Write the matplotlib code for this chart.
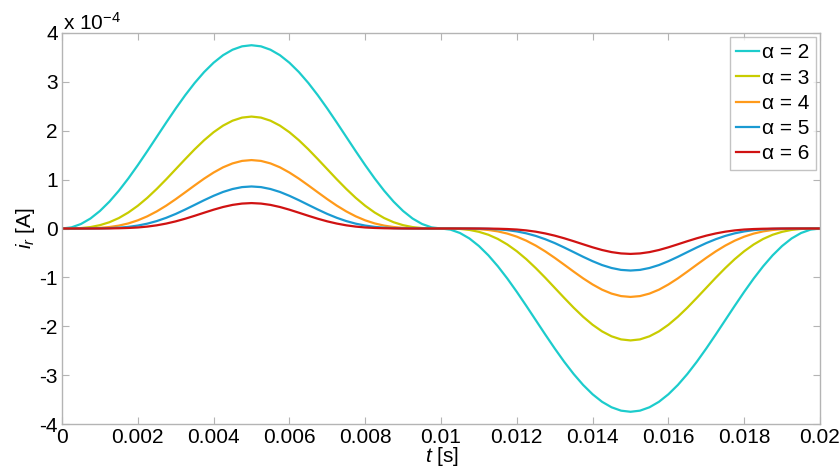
import numpy as np
import matplotlib
matplotlib.use("Agg")
import matplotlib.pyplot as plt

plt.rcParams['font.family'] = ['Liberation Sans', 'DejaVu Sans']
plt.rcParams['mathtext.fontset'] = 'custom'
plt.rcParams['mathtext.rm'] = 'Liberation Sans'
plt.rcParams['mathtext.it'] = 'Liberation Sans:italic'

# time axis [s]
t = np.linspace(0, 0.02, 81)

# currents in units of 1e-4 A
i_a2 = [0, .023, .092, .204, .358, .549, .773, 1.024, 1.296, 1.582, 1.875, 2.168, 2.454, 2.726, 2.977, 3.201, 3.392, 3.546, 3.658, 3.727, 3.750,
        3.727, 3.658, 3.546, 3.392, 3.201, 2.977, 2.726, 2.454, 2.168, 1.875, 1.582, 1.296, 1.024, .773, .549, .358, .204, .092, .023, 0,
        -.023, -.092, -.204, -.358, -.549, -.773, -1.024, -1.296, -1.582, -1.875, -2.168, -2.454, -2.726, -2.977, -3.201, -3.392, -3.546, -3.658, -3.727, -3.750,
        -3.727, -3.658, -3.546, -3.392, -3.201, -2.977, -2.726, -2.454, -2.168, -1.875, -1.582, -1.296, -1.024, -.773, -.549, -.358, -.204, -.092, -.023, 0]
i_a3 = [0, .001, .009, .029, .068, .128, .214, .327, .465, .627, .810, 1.007, 1.213, 1.419, 1.620, 1.806, 1.970, 2.105, 2.206, 2.269, 2.290,
        2.269, 2.206, 2.105, 1.970, 1.806, 1.620, 1.419, 1.213, 1.007, .810, .627, .465, .327, .214, .128, .068, .029, .009, .001, 0,
        -.001, -.009, -.029, -.068, -.128, -.214, -.327, -.465, -.627, -.810, -1.007, -1.213, -1.419, -1.620, -1.806, -1.970, -2.105, -2.206, -2.269, -2.290,
        -2.269, -2.206, -2.105, -1.970, -1.806, -1.620, -1.419, -1.213, -1.007, -.810, -.627, -.465, -.327, -.214, -.128, -.068, -.029, -.009, -.001, 0]
i_a4 = [0, .000, .001, .004, .013, .030, .059, .104, .167, .249, .350, .468, .600, .740, .882, 1.020, 1.145, 1.252, 1.332, 1.383, 1.400,
        1.383, 1.332, 1.252, 1.145, 1.020, .882, .740, .600, .468, .350, .249, .167, .104, .059, .030, .013, .004, .001, .000, 0,
        -.000, -.001, -.004, -.013, -.030, -.059, -.104, -.167, -.249, -.350, -.468, -.600, -.740, -.882, -1.020, -1.145, -1.252, -1.332, -1.383, -1.400,
        -1.383, -1.332, -1.252, -1.145, -1.020, -.882, -.740, -.600, -.468, -.350, -.249, -.167, -.104, -.059, -.030, -.013, -.004, -.001, -.000, 0]
i_a5 = [0, .000, .000, .001, .002, .007, .017, .033, .060, .099, .152, .219, .298, .388, .483, .579, .669, .748, .808, .847, .860,
        .847, .808, .748, .669, .579, .483, .388, .298, .219, .152, .099, .060, .033, .017, .007, .002, .001, .000, .000, 0,
        -.000, -.000, -.001, -.002, -.007, -.017, -.033, -.060, -.099, -.152, -.219, -.298, -.388, -.483, -.579, -.669, -.748, -.808, -.847, -.860,
        -.847, -.808, -.748, -.669, -.579, -.483, -.388, -.298, -.219, -.152, -.099, -.060, -.033, -.017, -.007, -.002, -.001, -.000, -.000, 0]
i_a6 = [0, .000, .000, .000, .000, .002, .005, .011, .021, .039, .065, .101, .146, .200, .260, .323, .385, .440, .483, .510, .520,
        .510, .483, .440, .385, .323, .260, .200, .146, .101, .065, .039, .021, .011, .005, .002, .000, .000, .000, .000, 0,
        -.000, -.000, -.000, -.000, -.002, -.005, -.011, -.021, -.039, -.065, -.101, -.146, -.200, -.260, -.323, -.385, -.440, -.483, -.510, -.520,
        -.510, -.483, -.440, -.385, -.323, -.260, -.200, -.146, -.101, -.065, -.039, -.021, -.011, -.005, -.002, -.000, -.000, -.000, -.000, 0]

labels = ['α = 2', 'α = 3', 'α = 4', 'α = 5', 'α = 6']
colors = ['#1ccccc', '#c8cc00', '#ff9a1a', '#1a9ad2', '#d01212']
series = [i_a2, i_a3, i_a4, i_a5, i_a6]

xticks = [0, 0.002, 0.004, 0.006, 0.008, 0.01, 0.012, 0.014, 0.016, 0.018, 0.02]
xticklabels = ['0', '0.002', '0.004', '0.006', '0.008', '0.01', '0.012', '0.014', '0.016', '0.018', '0.02']
yticks = [-4, -3, -2, -1, 0, 1, 2, 3, 4]

fig = plt.figure(figsize=(8.4, 4.68), dpi=100)
ax = fig.add_axes([62/840, 1-424/468, (820-62)/840, (424-33)/468])

for y, c, lab in zip(series, colors, labels):
    ax.plot(t, y, color=c, lw=1.6, label=lab)

ax.set_xlim(0, 0.02)
ax.set_ylim(-4, 4)
ax.set_xticks(xticks)
ax.set_xticklabels(xticklabels)
ax.set_yticks(yticks)
ax.set_yticklabels([str(v) for v in yticks])

gray = '#b4b4b4'
for s in ax.spines.values():
    s.set_color(gray)
    s.set_linewidth(1.0)
ax.tick_params(direction='in', length=5, width=0.8, color=gray, labelsize=15,
               top=True, right=True, pad=3)

ax.set_xlabel(r'$t$ [s]', fontsize=15)
ax.xaxis.set_label_coords(0.501, -(445 - 424) / 391)
ax.set_ylabel(r'$i_r$ [A]', fontsize=15, labelpad=2)

fig.text(63/840, 1-30/468, r'x 10$^{-4}$', fontsize=15, ha='left', va='baseline')

leg = ax.legend(loc='upper right', fontsize=15, frameon=True, fancybox=False,
                edgecolor=gray, borderpad=0.3, labelspacing=0.3,
                handlelength=1.1, handletextpad=0.15, borderaxespad=0.2)
leg.get_frame().set_linewidth(1.0)

fig.savefig('out.png', dpi=100)
